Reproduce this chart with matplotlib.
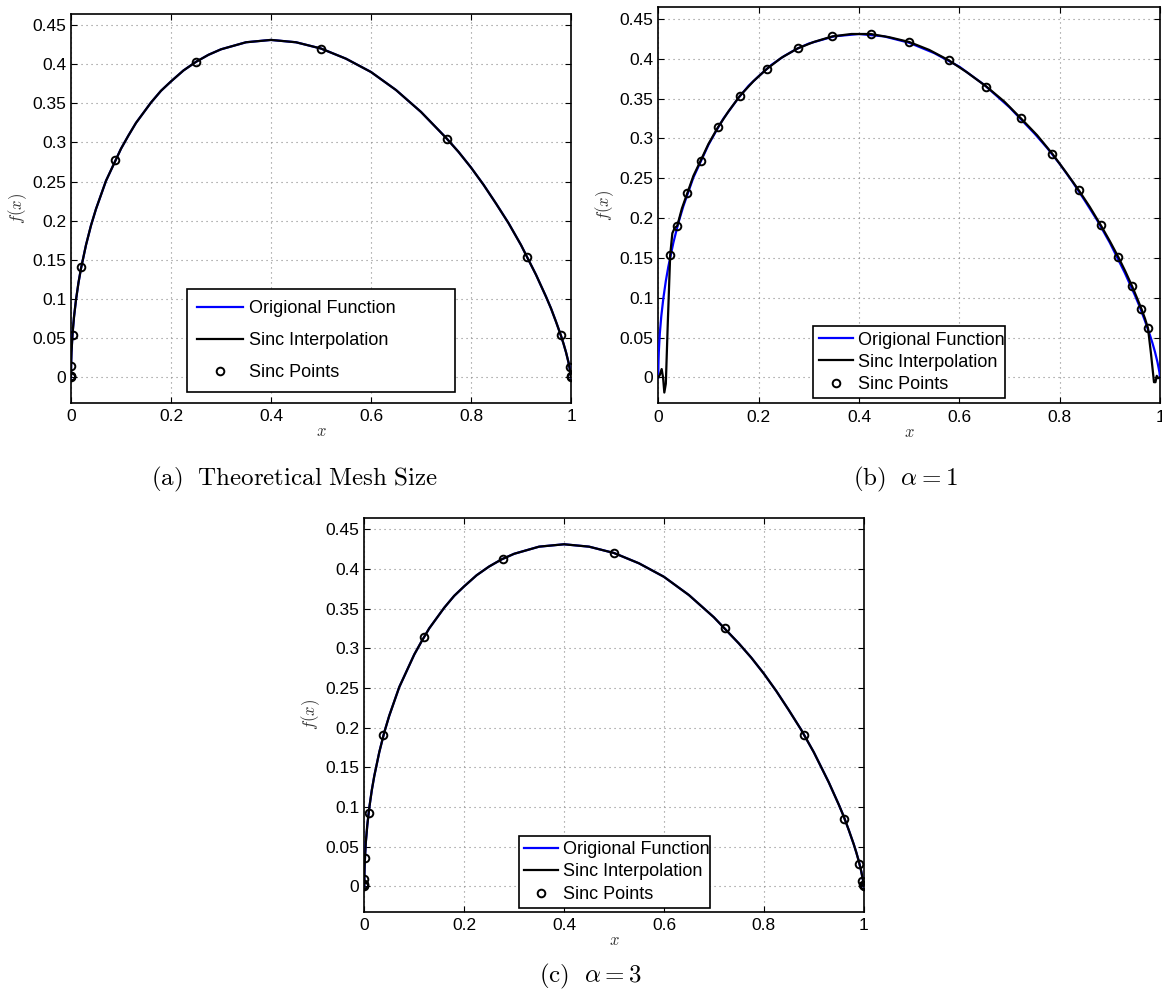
import matplotlib
matplotlib.use("Agg")
import matplotlib.pyplot as plt
from matplotlib.ticker import FuncFormatter, FixedLocator

plt.rcParams['font.family'] = ['Liberation Sans', 'DejaVu Sans']
plt.rcParams['mathtext.fontset'] = 'cm'

# ---------------- data ----------------
orig_x = [0, 0.0002, 0.0005, 0.001, 0.003, 0.006, 0.01, 0.015, 0.02, 0.03, 0.04, 0.05, 0.07,
          0.1, 0.115, 0.13, 0.16, 0.18, 0.2, 0.225, 0.25, 0.275, 0.3, 0.35, 0.4, 0.45,
          0.5, 0.55, 0.6, 0.65, 0.7, 0.75, 0.775, 0.8, 0.825, 0.85, 0.875, 0.9, 0.93,
          0.95, 0.96, 0.97, 0.98, 0.985, 0.99, 0.995, 0.9975, 0.999, 1.0]
orig_y = [0, 0.014, 0.022, 0.032, 0.055, 0.077, 0.099, 0.121, 0.139, 0.169, 0.194, 0.215, 0.251,
          0.292, 0.309, 0.325, 0.351, 0.366, 0.378, 0.392, 0.403, 0.412, 0.419, 0.428, 0.431, 0.428,
          0.420, 0.407, 0.390, 0.367, 0.339, 0.306, 0.288, 0.268, 0.246, 0.222, 0.197, 0.169, 0.131,
          0.103, 0.088, 0.071, 0.053, 0.043, 0.032, 0.019, 0.011, 0.006, 0.0]

# sinc interpolation for alpha = 1 (panel b), with end oscillations
sincb_x = [0, 0.003, 0.0067, 0.0095, 0.012, 0.015, 0.019, 0.0237, 0.028, 0.033, 0.0377, 0.047,
           0.0577, 0.07, 0.0844, 0.1, 0.119, 0.14, 0.163, 0.19, 0.216, 0.245, 0.278, 0.31,
           0.347, 0.385, 0.423, 0.46, 0.5, 0.54, 0.579, 0.615, 0.654, 0.69, 0.723, 0.755,
           0.785, 0.812, 0.838, 0.86, 0.882, 0.9, 0.917, 0.931, 0.944, 0.954, 0.963, 0.97,
           0.976, 0.982, 0.988, 0.991, 0.9935, 0.996, 1.0]
sincb_y = [0, 0.003, 0.0105, 0.0, -0.019, -0.008, 0.07, 0.1536, 0.181, 0.188, 0.190, 0.212,
           0.231, 0.253, 0.272, 0.293, 0.314, 0.334, 0.3536, 0.372, 0.387, 0.401, 0.413, 0.421,
           0.428, 0.431, 0.431, 0.427, 0.421, 0.411, 0.398, 0.383, 0.365, 0.346, 0.325, 0.304,
           0.281, 0.258, 0.235, 0.214, 0.191, 0.171, 0.151, 0.133, 0.115, 0.100, 0.086, 0.074,
           0.062, 0.030, -0.006, -0.006, 0.002, -0.001, 0.0]

pts_a_x = [0.0, 0.0, 0.0, 0.0002, 0.003, 0.020, 0.088, 0.25, 0.50, 0.752, 0.912, 0.980, 0.9975, 1.0, 1.0]
pts_a_y = [0.0, 0.001, 0.002, 0.014, 0.054, 0.141, 0.277, 0.403, 0.420, 0.305, 0.154, 0.054, 0.013, 0.001, 0.0]

pts_b_x = [0.0237, 0.0377, 0.0577, 0.0844, 0.119, 0.163, 0.216, 0.278, 0.347, 0.423, 0.500,
           0.579, 0.654, 0.723, 0.785, 0.838, 0.882, 0.917, 0.944, 0.963, 0.976]
pts_b_y = [0.1536, 0.190, 0.231, 0.272, 0.314, 0.3536, 0.387, 0.413, 0.428, 0.431, 0.421,
           0.398, 0.365, 0.325, 0.281, 0.235, 0.191, 0.151, 0.115, 0.086, 0.062]

pts_c_x = [0.0, 0.0, 0.0, 0.0001, 0.0012, 0.009, 0.038, 0.119, 0.278, 0.4996, 0.7215, 0.880,
           0.960, 0.990, 0.997, 0.9995, 1.0, 1.0]
pts_c_y = [0.0, 0.001, 0.003, 0.0097, 0.035, 0.0925, 0.190, 0.314, 0.413, 0.4206, 0.325, 0.190,
           0.0847, 0.028, 0.006, 0.002, 0.0, 0.001]

xticks = [0, 0.2, 0.4, 0.6, 0.8, 1.0]
yticks = [0, 0.05, 0.1, 0.15, 0.2, 0.25, 0.3, 0.35, 0.4, 0.45]
legend_labels = ['Origional Function', 'Sinc Interpolation', 'Sinc Points']
captions = [r'$\mathrm{(a)\ \ Theoretical\ Mesh\ Size}$', r'$\mathrm{(b)}\ \ \alpha=1$',
            r'$\mathrm{(c)}\ \ \alpha=3$']

# ---------------- figure ----------------
W, H = 1162, 991
fig = plt.figure(figsize=(W / 100, H / 100), dpi=100)

def px_axes(left, top, right, bottom):
    return fig.add_axes([left / W, 1 - bottom / H, (right - left) / W, (bottom - top) / H])

ax_a = px_axes(71, 13.7, 571, 402.7)
ax_b = px_axes(658.3, 7.3, 1160, 403.3)
ax_c = px_axes(364.3, 517.7, 863.7, 912)

fmt = FuncFormatter(lambda v, p: ('%g' % round(v, 4)))

def style(ax):
    ax.set_xlim(0, 1)
    ax.set_ylim(-0.0325, 0.4645)
    ax.xaxis.set_major_locator(FixedLocator(xticks))
    ax.yaxis.set_major_locator(FixedLocator(yticks))
    ax.xaxis.set_major_formatter(fmt)
    ax.yaxis.set_major_formatter(fmt)
    ax.tick_params(direction='in', length=4, width=0.8, top=True, right=True,
                   labelsize=12.5)
    ax.tick_params(axis='x', pad=4.5)
    ax.tick_params(axis='y', pad=3.5)
    ax.grid(True, color='#888888', linestyle=(0, (1, 3.5)), linewidth=0.8)
    for s in ax.spines.values():
        s.set_linewidth(1.2)
    ax.set_xlabel(r'$x$', fontsize=12, color='#333333', labelpad=0)
    ax.set_ylabel(r'$f(x)$', fontsize=12, color='#333333', labelpad=2.5)

def draw(ax, sx, sy, px, py, leg_box, leg_kw):
    l1, = ax.plot(orig_x, orig_y, color='#0000ff', lw=1.6, zorder=3)
    l2, = ax.plot(sx, sy, color='black', lw=1.6, zorder=4)
    l3, = ax.plot(px, py, linestyle='none', marker='o', markersize=5.5,
                  markerfacecolor='none', markeredgecolor='black', markeredgewidth=1.4, zorder=5)
    leg = ax.legend([l1, l2, l3], legend_labels, loc='upper left', mode='expand',
                    bbox_to_anchor=leg_box, bbox_transform=ax.transData,
                    fancybox=False, framealpha=1, edgecolor='black', borderaxespad=0,
                    fontsize=13, **leg_kw)
    leg.get_frame().set_linewidth(1.2)
    leg.set_zorder(10)
    style(ax)

draw(ax_a, orig_x, orig_y, pts_a_x, pts_a_y, (0.231, -0.0166, 0.537, 0.1291),
     dict(handlelength=2.55, labelspacing=0.84, handletextpad=0.3, borderpad=0.6))
draw(ax_b, sincb_x, sincb_y, pts_b_x, pts_b_y, (0.309, -0.0225, 0.383, 0.0864),
     dict(handlelength=1.9, labelspacing=0.28, handletextpad=0.28, borderpad=0.29))
draw(ax_c, orig_x, orig_y, pts_c_x, pts_c_y, (0.309, -0.0239, 0.383, 0.0874),
     dict(handlelength=1.9, labelspacing=0.3, handletextpad=0.28, borderpad=0.29))

fig.text(294 / W, 1 - 485 / H, captions[0], ha='center', va='baseline', fontsize=18)
fig.text(905 / W, 1 - 485 / H, captions[1], ha='center', va='baseline', fontsize=18)
fig.text(590 / W, 1 - 982 / H, captions[2], ha='center', va='baseline', fontsize=18)

fig.savefig('out.png', dpi=100)
